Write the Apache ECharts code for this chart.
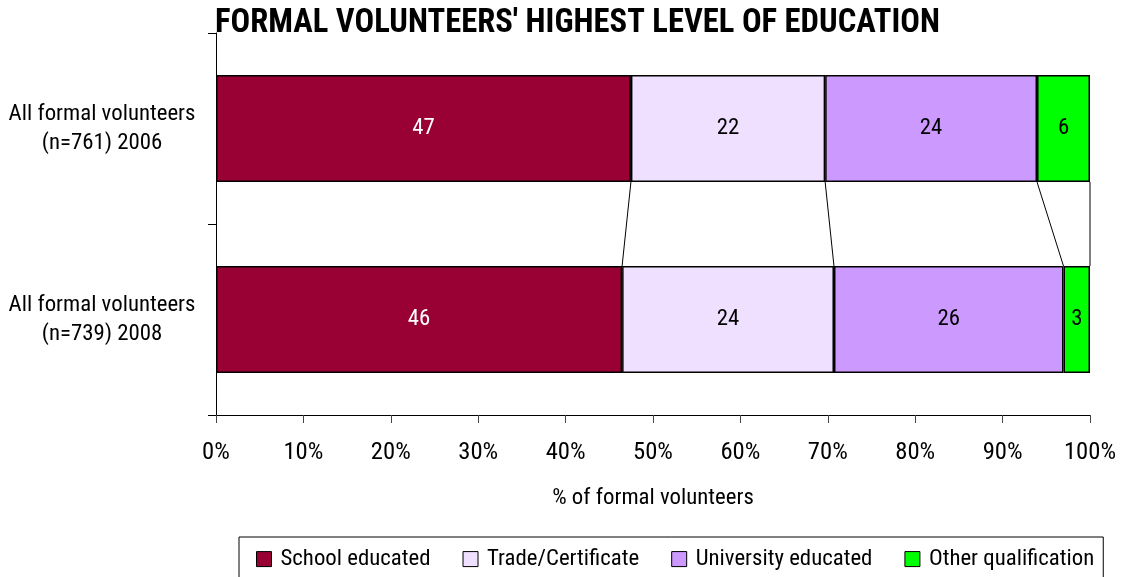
<!DOCTYPE html>
<html>
<head>
<meta charset="utf-8">
<title>Formal volunteers' highest level of education</title>
<script src="https://cdn.jsdelivr.net/npm/echarts@6/dist/echarts.min.js"></script>
<style>
  html, body { margin: 0; padding: 0; background: #fff; }
  #chart { width: 1129px; height: 577px; }
</style>
</head>
<body>
<div id="chart"></div>
<script>
// Survey groups (one bar each)
const categories = [
  'All formal volunteers\n(n=761) 2006',
  'All formal volunteers\n(n=739) 2008'
];

// Highest level of education, % of formal volunteers
const seriesNames = ['School educated', 'Trade/Certificate', 'University educated', 'Other qualification'];
const schoolEducated     = [47, 46];
const tradeCertificate   = [22, 24];
const universityEducated = [24, 26];
const otherQualification = [6, 3];

const seriesColors = ['#990033', '#F0E0FF', '#CC99FF', '#00FF00'];
const labelColors  = ['#ffffff', '#000000', '#000000', '#000000'];

const xTickValues = [0, 10, 20, 30, 40, 50, 60, 70, 80, 90, 100];

const TITLE = "FORMAL VOLUNTEERS' HIGHEST LEVEL OF EDUCATION";
const BAR_RATIO = 0.56;

// ---- font selection: prefer a condensed sans, otherwise shrink a regular one ----
const measureCtx = document.createElement('canvas').getContext('2d');
function textWidth(font, text) {
  measureCtx.font = font;
  return measureCtx.measureText(text).width;
}
function fontInstalled(name) {
  const probe = 'abcdefghijklmnopqrstuvwxyz0123456789';
  return ['monospace', 'serif'].some(base =>
    textWidth(`40px '${name}', ${base}`, probe) !== textWidth(`40px ${base}`, probe));
}
const condensed = ['Liberation Sans Narrow', 'Arial Narrow', 'Roboto Condensed', 'DejaVu Sans Condensed']
  .find(fontInstalled);
const FAMILY = condensed || 'Liberation Sans';
const FONT = `'${FAMILY}', 'Liberation Sans', Arial, sans-serif`;

// Fit the body text so "All formal volunteers" spans about 187px, the title about 725px
const FS = Math.min(25, 25 * 187 / textWidth(`25px ${FONT}`, 'All formal volunteers'));
const TICK_FS = Math.min(27, FS * 1.08);
const TITLE_FS = Math.min(33, 29 * 725 / textWidth(`bold 29px ${FONT}`, TITLE));

const raw = [schoolEducated, tradeCertificate, universityEducated, otherQualification];

// 100% stacked: each bar is scaled to the total of its own row
const totals = categories.map((_, c) => raw.reduce((s, arr) => s + arr[c], 0));
const shares = raw.map(arr => arr.map((v, c) => v / totals[c] * 100));

// Cumulative right edge of each segment, per bar
const cumulative = shares.map((_, s) =>
  categories.map((_, c) => shares.slice(0, s + 1).reduce((sum, arr) => sum + arr[c], 0))
);
// Series lines join each segment edge of the first bar to the second bar
const seriesLineData = cumulative.map(cum => [cum[0], cum[1], 0]);

const chart = echarts.init(document.getElementById('chart'), null, { renderer: 'canvas' });

const barSeries = seriesNames.map((name, s) => ({
  name: name,
  type: 'bar',
  stack: 'total',
  barWidth: (BAR_RATIO * 100) + '%',
  data: shares[s],
  itemStyle: { color: seriesColors[s], borderColor: '#000', borderWidth: 1.5 },
  label: {
    show: true,
    position: 'inside',
    color: labelColors[s],
    fontFamily: FONT,
    fontSize: FS,
    formatter: p => String(raw[s][p.dataIndex])
  },
  emphasis: { disabled: true },
  z: 2
}));

const seriesLines = {
  type: 'custom',
  name: 'series lines',
  silent: true,
  z: 1,
  encode: { x: [0, 1], y: 2 },
  data: seriesLineData,
  renderItem: (params, api) => {
    const band = api.size([0, 1])[1];
    const half = band * BAR_RATIO / 2;
    const top = api.coord([api.value(0), 0]);
    const bottom = api.coord([api.value(1), 1]);
    return {
      type: 'line',
      shape: { x1: top[0], y1: top[1] + half, x2: bottom[0], y2: bottom[1] - half },
      style: { stroke: '#000', lineWidth: 1 }
    };
  }
};

chart.setOption({
  animation: false,
  backgroundColor: '#ffffff',
  title: {
    text: TITLE,
    left: 215,
    top: 24 - TITLE_FS / 2,
    padding: 0,
    textStyle: { fontFamily: FONT, fontSize: TITLE_FS, fontWeight: 'bold', color: '#000' }
  },
  grid: { left: 216, right: 39, top: 33, bottom: 162, containLabel: false, outerBoundsMode: 'none' },
  xAxis: {
    type: 'value',
    min: 0,
    max: 100,
    interval: 10,
    name: '% of formal volunteers',
    nameLocation: 'middle',
    nameGap: 83 - FS / 2,
    nameTextStyle: { fontFamily: FONT, fontSize: FS, color: '#000' },
    axisLine: { show: true, lineStyle: { color: '#000', width: 1 } },
    axisTick: { show: true, length: 8, lineStyle: { color: '#444' } },
    axisLabel: {
      fontFamily: FONT, fontSize: TICK_FS, color: '#000', margin: 38 - TICK_FS / 2,
      formatter: v => (xTickValues.indexOf(v) >= 0 ? v + '%' : '')
    },
    splitLine: { show: false }
  },
  yAxis: {
    type: 'category',
    inverse: true,
    data: categories,
    axisLine: { show: true, lineStyle: { color: '#000', width: 1 } },
    axisTick: { show: true, length: 8, lineStyle: { color: '#000' } },
    axisLabel: {
      fontFamily: FONT, fontSize: FS, color: '#000',
      align: 'center', margin: 114, lineHeight: Math.round(FS * 1.25)
    },
    splitLine: { show: false }
  },
  legend: {
    data: seriesNames,
    left: 239,
    top: 537,
    padding: [22 - FS / 2, 9, 12, 17],
    borderColor: '#000',
    borderWidth: 1,
    itemWidth: 15,
    itemHeight: 15,
    itemGap: 32,
    icon: 'rect',
    itemStyle: { borderColor: '#000', borderWidth: 1 },
    textStyle: { fontFamily: FONT, fontSize: FS, color: '#000', padding: [0, 0, 0, 4] },
    selectedMode: false
  },
  series: barSeries.concat([seriesLines])
});
</script>
</body>
</html>
